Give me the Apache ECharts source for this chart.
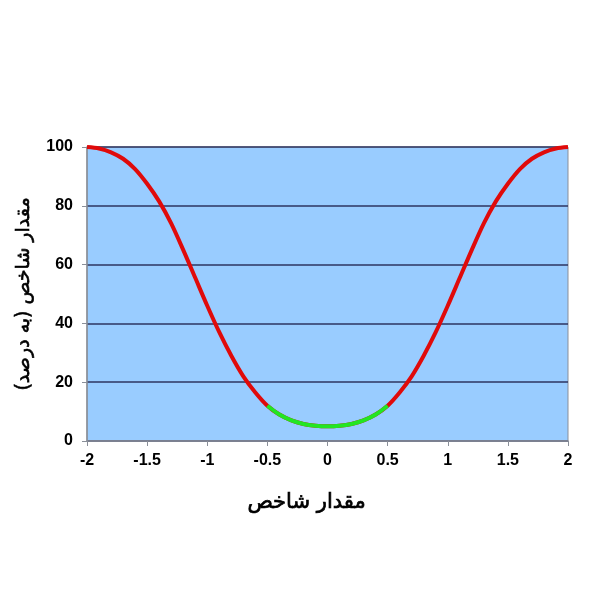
<!DOCTYPE html>
<html>
<head>
<meta charset="utf-8">
<script src="https://cdn.jsdelivr.net/npm/echarts@6/dist/echarts.min.js"></script>
<style>html,body{margin:0;padding:0;background:#fff;}#c{width:600px;height:600px;}</style>
</head>
<body>
<div id="c"></div>
<script>
var xValues = [-2.0,-1.9,-1.8,-1.7,-1.6,-1.5,-1.4,-1.3,-1.2,-1.1,-1.0,-0.9,-0.8,-0.7,-0.6,-0.5,-0.4,-0.3,-0.2,-0.1,0.0,0.1,0.2,0.3,0.4,0.5,0.6,0.7,0.8,0.9,1.0,1.1,1.2,1.3,1.4,1.5,1.6,1.7,1.8,1.9,2.0];
var yValues = [100,99.5,98.2,96,92.5,87.5,81.5,74,65,55.5,46,37,29,22,16.5,12,9,7,5.8,5.2,5,5.2,5.8,7,9,12,16.5,22,29,37,46,55.5,65,74,81.5,87.5,92.5,96,98.2,99.5,100];
var greenFrom = -0.5, greenTo = 0.5;
var xTicks = {min:-2, max:2, interval:0.5};
var yTicks = {min:0, max:100, interval:20};

var redData = xValues.map(function(x,i){return [x,yValues[i]];});
var greenData = redData.filter(function(p){return p[0] >= greenFrom - 1e-9 && p[0] <= greenTo + 1e-9;});

var chart = echarts.init(document.getElementById('c'));
chart.setOption({
  animation:false,
  backgroundColor:'#ffffff',
  grid:{left:87,right:32,top:147,bottom:159,show:true,backgroundColor:'#99ccff',borderColor:'#8a8f99',borderWidth:1},
  xAxis:{type:'value',min:xTicks.min,max:xTicks.max,interval:xTicks.interval,
    axisLine:{show:true,onZero:false,lineStyle:{color:'#8a8f99',width:1.5}},
    axisTick:{show:true,inside:false,length:5,lineStyle:{color:'#8a8f99'}},
    splitLine:{show:false},
    axisLabel:{color:'#000',fontFamily:'Liberation Sans, Arial',fontWeight:'bold',fontSize:16,margin:12},
    name:'مقدار شاخص',nameLocation:'middle',nameGap:51,
    nameTextStyle:{color:'#000',fontFamily:'DejaVu Sans',fontWeight:'normal',fontSize:21,
      textBorderColor:'#000',textBorderWidth:0.7,padding:[0,42,0,0]}},
  yAxis:{type:'value',min:yTicks.min,max:yTicks.max,interval:yTicks.interval,
    axisLine:{show:true,onZero:false,lineStyle:{color:'#8a8f99',width:1.5}},
    axisTick:{show:true,inside:false,length:5,lineStyle:{color:'#8a8f99'}},
    splitLine:{show:true,lineStyle:{color:'#2e3560',width:1.5}},
    axisLabel:{color:'#000',fontFamily:'Liberation Sans, Arial',fontWeight:'bold',fontSize:16,margin:14},
    name:'مقدار شاخص (به درصد)',nameLocation:'middle',nameGap:53,nameRotate:90,
    nameTextStyle:{color:'#000',fontFamily:'DejaVu Sans',fontWeight:'normal',fontSize:19,
      textBorderColor:'#000',textBorderWidth:0.6}},
  series:[
    {type:'line',data:redData,smooth:0.3,showSymbol:false,lineStyle:{color:'#e00a0a',width:4},z:3},
    {type:'line',data:greenData,smooth:0.3,showSymbol:false,lineStyle:{color:'#22e622',width:4},z:4}
  ]
});
</script>
</body>
</html>
